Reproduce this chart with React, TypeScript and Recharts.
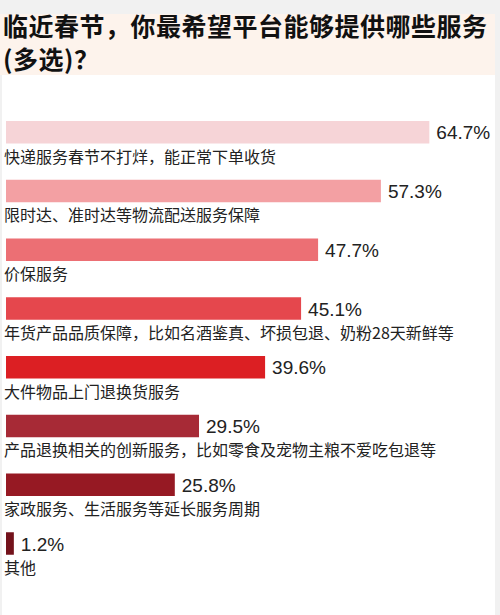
import React from 'react'
import { BarChart, Bar, XAxis, YAxis, Cell, LabelList } from 'recharts'

const categories = [
  '快递服务春节不打烊，能正常下单收货',
  '限时达、准时达等物流配送服务保障',
  '价保服务',
  '年货产品品质保障，比如名酒鉴真、坏损包退、奶粉28天新鲜等',
  '大件物品上门退换货服务',
  '产品退换相关的创新服务，比如零食及宠物主粮不爱吃包退等',
  '家政服务、生活服务等延长服务周期',
  '其他',
]
const shares = [64.7, 57.3, 47.7, 45.1, 39.6, 29.5, 25.8, 1.2]
const barColors = ['#f6d4d7', '#f3a0a3', '#ec6f74', '#e5474d', '#dc1f23', '#a72a36', '#961923', '#73121b']

const titleLines = ['临近春节，你最希望平台能够提供哪些服务', '(多选)？']

const data = categories.map((name, i) => ({ name, value: shares[i] }))

const CJK_FONT = '"Noto Sans CJK SC", "Noto Sans", sans-serif'
const NUM_FONT = '"Liberation Sans", Arial, sans-serif'

interface LabelProps {
  x?: number | string
  y?: number | string
  width?: number | string
  height?: number | string
  value?: string | number
}

const CategoryLabel = ({ x, y, height, value }: LabelProps) => {
  const bx = Number(x)
  const by = Number(y) + Number(height)
  return (
    <text x={bx - 2} y={by + 19} fontSize={16} fill="#222" fontFamily={CJK_FONT}>
      {value}
    </text>
  )
}

const ValueLabel = ({ x, y, width, height, value }: LabelProps) => {
  const ex = Number(x) + Number(width)
  const cy = Number(y) + Number(height) / 2
  return (
    <text x={ex + 7} y={cy + 7} fontSize={19} fill="#222" fontFamily={NUM_FONT}>
      {value}%
    </text>
  )
}

export default function App() {
  return (
    <div style={{ position: 'absolute', left: 0, top: 0, width: 500, height: 615, background: '#f1f1f1', overflow: 'hidden' }}>
      <div style={{ position: 'absolute', left: 2, top: 14, width: 493, height: 601, background: '#fff' }} />
      <div style={{ position: 'absolute', left: 0, top: 14, width: 495, height: 61, background: '#fdf3ec' }} />
      <div
        style={{
          position: 'absolute',
          left: 3,
          top: 9,
          width: 495,
          fontFamily: CJK_FONT,
          fontWeight: 'bold',
          fontSize: 25,
          lineHeight: '33px',
          color: '#111',
          letterSpacing: 0.5,
        }}
      >
        {titleLines.map((t) => (
          <div key={t} style={{ whiteSpace: 'nowrap' }}>{t}</div>
        ))}
      </div>
      <div style={{ position: 'absolute', left: 0, top: 0 }}>
        <BarChart
          width={500}
          height={615}
          data={data}
          layout="vertical"
          margin={{ top: 103, right: 36, bottom: 42, left: 6 }}
        >
          <XAxis type="number" domain={[0, 70]} hide />
          <YAxis type="category" dataKey="name" hide />
          <Bar dataKey="value" barSize={22.5} isAnimationActive={false}>
            {data.map((d, i) => (
              <Cell key={d.name} fill={barColors[i]} />
            ))}
            <LabelList dataKey="value" content={<ValueLabel />} />
            <LabelList dataKey="name" content={<CategoryLabel />} />
          </Bar>
        </BarChart>
      </div>
    </div>
  )
}
